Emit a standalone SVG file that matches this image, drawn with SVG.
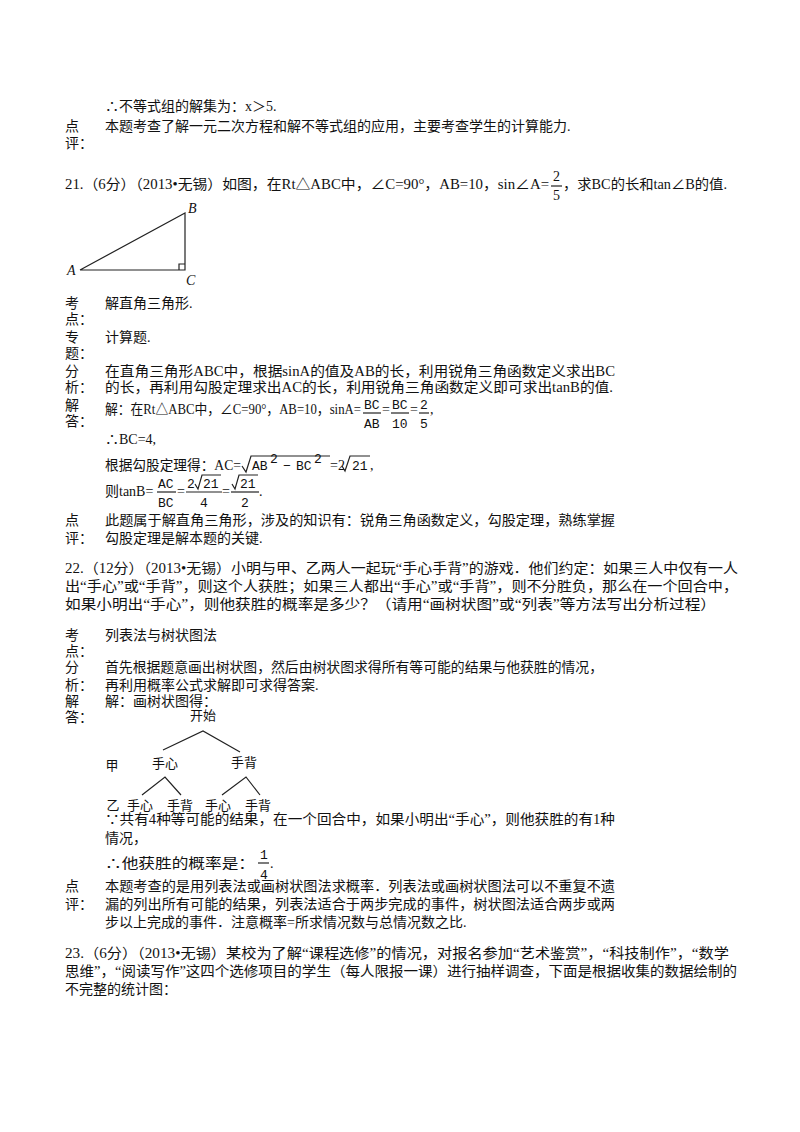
<svg xmlns="http://www.w3.org/2000/svg" width="800" height="1132" viewBox="0 0 800 1132">
<style>
text{font-family:"Liberation Serif","Noto Sans CJK SC",serif;font-size:14px;fill:#111}
.s{font-family:"Noto Sans CJK SC",sans-serif;font-size:13px}
.m{font-family:"Liberation Mono","Noto Sans CJK SC",monospace;font-size:13px}
line,polyline{stroke:#222;stroke-width:1.2;fill:none}
</style>
<rect width="800" height="1132" fill="#fff"/>
<text x="105" y="111">∴不等式组的解集为：x＞5.</text>
<text x="65" y="131">点</text><text x="105" y="131">本题考查了解一元二次方程和解不等式组的应用，主要考查学生的计算能力.</text>
<text x="65" y="148">评：</text>
<text x="65" y="189" textLength="484" lengthAdjust="spacingAndGlyphs">21.（6分）（2013•无锡）如图，在Rt△ABC中，∠C=90°，AB=10，sin∠A=</text>
<text x="553" y="181">2</text><line x1="551" y1="186" x2="562" y2="186"/><text x="553" y="200">5</text>
<text x="563" y="189" textLength="164" lengthAdjust="spacingAndGlyphs">，求BC的长和tan∠B的值.</text>
<g id="triangle">
<polyline points="80,270 185,213 185,270 80,270"/>
<polyline points="179,270 179,264 185,264"/>
<text x="67" y="275" font-style="italic">A</text>
<text x="188" y="213" font-style="italic">B</text>
<text x="186" y="285" font-style="italic">C</text>
</g>
<text x="65" y="308">考</text><text x="105" y="308">解直角三角形.</text><text x="65" y="324">点：</text>
<text x="65" y="342">专</text><text x="105" y="342">计算题.</text><text x="65" y="358">题：</text>
<text x="65" y="376">分</text><text x="105" y="376" textLength="510" lengthAdjust="spacingAndGlyphs">在直角三角形ABC中，根据sinA的值及AB的长，利用锐角三角函数定义求出BC</text>
<text x="65" y="392">析：</text><text x="105" y="392" textLength="508" lengthAdjust="spacingAndGlyphs">的长，再利用勾股定理求出AC的长，利用锐角三角函数定义即可求出tanB的值.</text>
<text x="65" y="410">解</text><text x="65" y="426">答：</text>
<text x="105" y="414" textLength="256" lengthAdjust="spacingAndGlyphs">解：在Rt△ABC中，∠C=90°，AB=10，sinA=</text>
<text class="m" x="364" y="409">BC</text><line x1="363" y1="413" x2="381" y2="413"/><text class="m" x="364" y="428">AB</text>
<text x="382" y="414">=</text>
<text class="m" x="392" y="409">BC</text><line x1="391" y1="413" x2="409" y2="413"/><text class="m" x="392" y="428">10</text>
<text x="410" y="414">=</text>
<text class="m" x="420" y="409">2</text><line x1="419" y1="413" x2="429" y2="413"/><text class="m" x="420" y="428">5</text>
<text x="430" y="414">,</text>
<text x="105" y="444">∴BC=4,</text>
<text x="105" y="470" textLength="136" lengthAdjust="spacingAndGlyphs">根据勾股定理得：AC=</text>
<polyline points="242,466 246,472 251,456 330,456"/>
<text class="m" x="252" y="470">AB</text><text class="m" font-size="9" x="270" y="463">2</text><text class="m" x="283" y="470">−</text><text class="m" x="296" y="470">BC</text><text class="m" font-size="9" x="314" y="463">2</text>
<text x="330" y="470">=2</text>
<polyline points="342,466 345,471 350,456 370,456"/>
<text class="m" x="352" y="470">21</text><text x="370" y="470">,</text>
<text x="105" y="496">则tanB=</text>
<text class="m" x="158" y="488">AC</text><line x1="157" y1="492" x2="176" y2="492"/><text class="m" x="158" y="507">BC</text>
<text x="177" y="496">=</text>
<text class="m" x="187" y="488">2</text><polyline points="195,484 198,489 202,475 221,475"/><text class="m" x="203" y="488">21</text>
<line x1="186" y1="492" x2="222" y2="492"/><text class="m" x="200" y="507">4</text>
<text x="222" y="496">=</text>
<polyline points="232,484 235,489 239,475 258,475"/><text class="m" x="240" y="488">21</text>
<line x1="231" y1="492" x2="259" y2="492"/><text class="m" x="241" y="507">2</text>
<text x="259" y="496">.</text>
<text x="65" y="525">点</text><text x="105" y="525" textLength="510" lengthAdjust="spacingAndGlyphs">此题属于解直角三角形，涉及的知识有：锐角三角函数定义，勾股定理，熟练掌握</text>
<text x="65" y="543">评：</text><text x="105" y="543">勾股定理是解本题的关键.</text>
<text x="65" y="573" textLength="673" lengthAdjust="spacingAndGlyphs">22.（12分）（2013•无锡）小明与甲、乙两人一起玩“手心手背”的游戏．他们约定：如果三人中仅有一人</text>
<text x="65" y="591" textLength="673" lengthAdjust="spacingAndGlyphs">出“手心”或“手背”，则这个人获胜；如果三人都出“手心”或“手背”，则不分胜负，那么在一个回合中，</text>
<text x="65" y="609" textLength="651" lengthAdjust="spacingAndGlyphs">如果小明出“手心”，则他获胜的概率是多少？（请用“画树状图”或“列表”等方法写出分析过程）</text>
<text x="65" y="640">考</text><text x="105" y="640">列表法与树状图法</text><text x="65" y="656">点：</text>
<text x="65" y="672">分</text><text x="105" y="672" textLength="498" lengthAdjust="spacingAndGlyphs">首先根据题意画出树状图，然后由树状图求得所有等可能的结果与他获胜的情况，</text>
<text x="65" y="690">析：</text><text x="105" y="690">再利用概率公式求解即可求得答案.</text>
<text x="65" y="706">解</text><text x="105" y="706">解：画树状图得：</text><text x="65" y="722">答：</text>
<g id="tree">
<text class="s" x="203" y="720" text-anchor="middle">开始</text>
<polyline points="163,750 203,731 240,752"/>
<text class="s" x="112" y="770" text-anchor="middle">甲</text>
<text class="s" x="165" y="768" text-anchor="middle">手心</text>
<text class="s" x="244" y="767" text-anchor="middle">手背</text>
<polyline points="142,795 165,777 181,795"/>
<polyline points="222,795 246,777 260,795"/>
<text class="s" x="113" y="810" text-anchor="middle">乙</text>
<text class="s" x="140" y="810" text-anchor="middle">手心</text>
<text class="s" x="180" y="810" text-anchor="middle">手背</text>
<text class="s" x="218" y="810" text-anchor="middle">手心</text>
<text class="s" x="258" y="810" text-anchor="middle">手背</text>
</g>
<text x="105" y="824" textLength="510" lengthAdjust="spacingAndGlyphs">∵共有4种等可能的结果，在一个回合中，如果小明出“手心”，则他获胜的有1种</text>
<text x="105" y="843">情况，</text>
<text x="105" y="868" textLength="150" lengthAdjust="spacingAndGlyphs">∴他获胜的概率是：</text>
<text class="m" x="260" y="859">1</text><line x1="258" y1="863" x2="269" y2="863"/><text class="m" x="260" y="879">4</text><text x="270" y="868">.</text>
<text x="65" y="891">点</text><text x="105" y="891" textLength="510" lengthAdjust="spacingAndGlyphs">本题考查的是用列表法或画树状图法求概率．列表法或画树状图法可以不重复不遗</text>
<text x="65" y="909">评：</text><text x="105" y="909" textLength="510" lengthAdjust="spacingAndGlyphs">漏的列出所有可能的结果，列表法适合于两步完成的事件，树状图法适合两步或两</text>
<text x="105" y="927">步以上完成的事件．注意概率=所求情况数与总情况数之比.</text>
<text x="65" y="958" textLength="664" lengthAdjust="spacingAndGlyphs">23.（6分）（2013•无锡）某校为了解“课程选修”的情况，对报名参加“艺术鉴赏”，“科技制作”，“数学</text>
<text x="65" y="976" textLength="672" lengthAdjust="spacingAndGlyphs">思维”，“阅读写作”这四个选修项目的学生（每人限报一课）进行抽样调查，下面是根据收集的数据绘制的</text>
<text x="65" y="994">不完整的统计图：</text>
</svg>
